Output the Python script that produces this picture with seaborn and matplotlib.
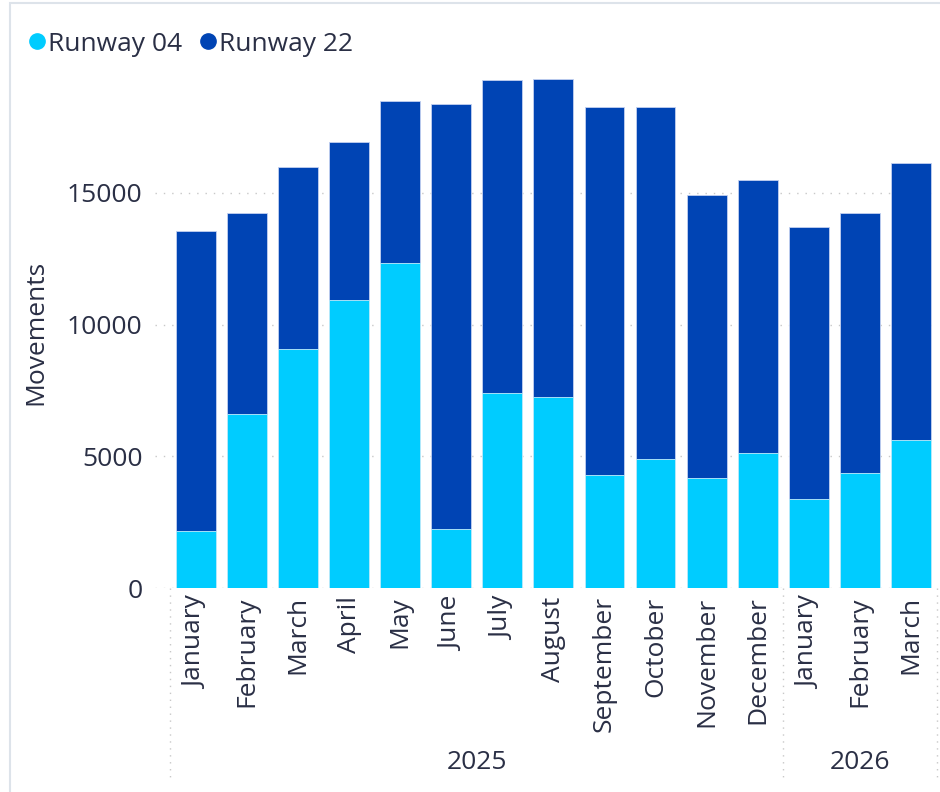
import pandas as pd
import matplotlib.pyplot as plt
import matplotlib.transforms as mtransforms
from matplotlib.lines import Line2D
from matplotlib.patches import Rectangle
import seaborn as sns

# Monthly runway movements, Jan 2025 - Mar 2026
months = ['January', 'February', 'March', 'April', 'May', 'June', 'July',
          'August', 'September', 'October', 'November', 'December',
          'January', 'February', 'March']
years = [2025] * 12 + [2026] * 3
runway_04 = [2170, 6610, 9080, 10940, 12340, 2240, 7410, 7250, 4290, 4890,
             4170, 5130, 3380, 4370, 5620]
runway_22 = [11390, 7630, 6910, 6000, 6160, 16140, 11880, 12080, 13980,
             13360, 10760, 10370, 10330, 9870, 10520]

c04 = '#00CCFF'
c22 = '#0044B4'
txt = '#2A2F45'
fs = 19

df = pd.DataFrame({'Month': months, 'Year': years,
                   'Runway 04': runway_04, 'Runway 22': runway_22})
df['Key'] = df['Year'].astype(str) + '-' + df['Month']
df['Total'] = df['Runway 04'] + df['Runway 22']
order = list(df['Key'])

sns.set_theme(style='white')
plt.rcParams['font.family'] = ['Open Sans', 'DejaVu Sans']

fig = plt.figure(figsize=(9.4, 7.92), dpi=100)
ax = fig.add_axes([155 / 940, 1 - 588 / 792, (936 - 155) / 940, 527 / 792])

# stacked: total in dark, Runway 04 over it in light
sns.barplot(data=df, x='Key', y='Total', order=order, color=c22,
            width=0.78, saturation=1, edgecolor='#c2d0f0', linewidth=0.6,
            ax=ax)
sns.barplot(data=df, x='Key', y='Runway 04', order=order, color=c04,
            width=0.78, saturation=1, edgecolor='#c2eefc', linewidth=0.6,
            ax=ax)

ax.set_xlim(-0.80, 14.49)
ax.set_ylim(0, 20000)
ax.set_yticks([0, 5000, 10000, 15000])
ax.set_yticklabels(['0', '5000', '10000', '15000'])
ax.set_xticks(range(len(months)))
ax.set_xticklabels(months, rotation=90)
ax.tick_params(axis='both', length=0, labelsize=fs, colors=txt)
ax.tick_params(axis='y', pad=9)
ax.tick_params(axis='x', pad=6)
ax.yaxis.grid(True, linestyle=(0, (1, 5)), color='#c8c8c8', linewidth=1)
ax.set_axisbelow(True)
for s in ax.spines.values():
    s.set_visible(False)

ax.set_xlabel('')
ax.set_ylabel('Movements', fontsize=fs, color=txt)
ax.yaxis.set_label_coords(-0.136, 0.484)

# year group labels and separators below the axis
trans = mtransforms.blended_transform_factory(ax.transData, ax.transAxes)
for xpos in [-0.5, 11.5, 14.5]:
    ax.plot([xpos, xpos], [0, -0.36], transform=trans, clip_on=False,
            color='#c8c8c8', linestyle=(0, (1, 4)), linewidth=1)
year_pos = {2025: 5.5, 2026: 13.0}
for yr, xpos in year_pos.items():
    ax.text(xpos, -0.332, str(yr), transform=trans, ha='center',
            va='center', fontsize=fs, color=txt)

handles = [Line2D([], [], marker='o', linestyle='', markersize=11, color=c04),
           Line2D([], [], marker='o', linestyle='', markersize=11, color=c22)]
fig.legend(handles, ['Runway 04', 'Runway 22'], loc='upper left',
           bbox_to_anchor=(0.0, 0.99), ncol=2, frameon=False,
           fontsize=fs, labelcolor=txt, handletextpad=-0.1,
           columnspacing=0.5, handlelength=1.0)

fig.patches.append(Rectangle((10 / 940, -0.01), 1.0, 1 - 3 / 792 + 0.01,
                             transform=fig.transFigure, fill=False,
                             edgecolor='#dde3ea', linewidth=1.5))

fig.savefig('out.png', dpi=100)
